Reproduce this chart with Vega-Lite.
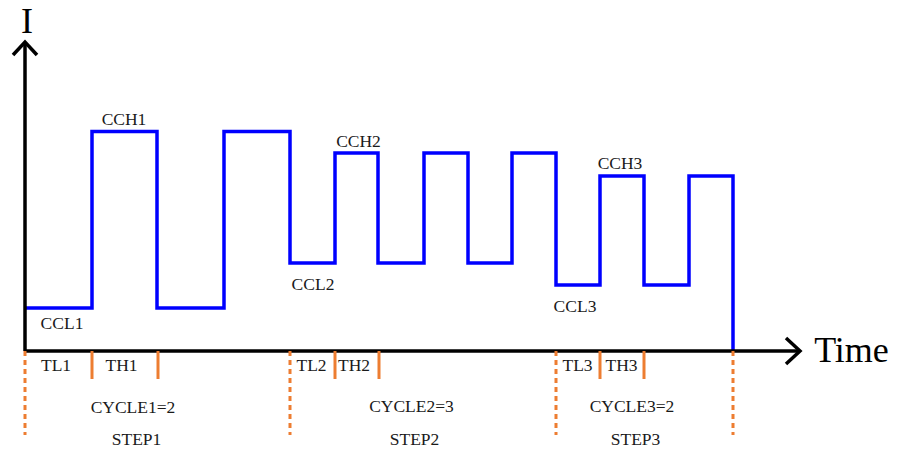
{
  "$schema": "https://vega.github.io/schema/vega-lite/v6.json",
  "width": 897,
  "height": 452,
  "padding": 0,
  "autosize": {"type": "fit", "contains": "padding"},
  "view": {"stroke": null},
  "background": "white",
  "datasets": {
    "current": [
      {"t": 0, "I": 43}, {"t": 67, "I": 219.5}, {"t": 132, "I": 43}, {"t": 199, "I": 219.5},
      {"t": 265, "I": 88}, {"t": 310, "I": 198}, {"t": 353, "I": 88}, {"t": 399, "I": 198},
      {"t": 443, "I": 88}, {"t": 487, "I": 198}, {"t": 531, "I": 66}, {"t": 575, "I": 175},
      {"t": 619, "I": 66}, {"t": 664, "I": 175}, {"t": 708, "I": 0}
    ],
    "axes": [
      {"g": "yaxis", "o": 0, "t": 0, "I": 0}, {"g": "yaxis", "o": 1, "t": 0, "I": 309},
      {"g": "xaxis", "o": 0, "t": 0, "I": 0}, {"g": "xaxis", "o": 1, "t": 775, "I": 0},
      {"g": "yarrow", "o": 0, "t": -12, "I": 296}, {"g": "yarrow", "o": 1, "t": 0, "I": 309}, {"g": "yarrow", "o": 2, "t": 12, "I": 296},
      {"g": "xarrow", "o": 0, "t": 761, "I": 13}, {"g": "xarrow", "o": 1, "t": 775, "I": 0}, {"g": "xarrow", "o": 2, "t": 761, "I": -13}
    ],
    "ticks": [
      {"g": "a", "t": 67, "I": 0}, {"g": "a", "t": 67, "I": -28},
      {"g": "b", "t": 133, "I": 0}, {"g": "b", "t": 133, "I": -28},
      {"g": "c", "t": 310, "I": 0}, {"g": "c", "t": 310, "I": -28},
      {"g": "d", "t": 354, "I": 0}, {"g": "d", "t": 354, "I": -28},
      {"g": "e", "t": 575, "I": 0}, {"g": "e", "t": 575, "I": -28},
      {"g": "f", "t": 619, "I": 0}, {"g": "f", "t": 619, "I": -28}
    ],
    "steps": [
      {"g": "s0", "t": 0, "I": 0}, {"g": "s0", "t": 0, "I": -84},
      {"g": "s1", "t": 265, "I": 0}, {"g": "s1", "t": 265, "I": -84},
      {"g": "s2", "t": 531, "I": 0}, {"g": "s2", "t": 531, "I": -84},
      {"g": "s3", "t": 708, "I": 0}, {"g": "s3", "t": 708, "I": -84}
    ],
    "labels": [
      {"label": "CCH1", "t": 99, "I": 231.5},
      {"label": "CCL1", "t": 37, "I": 27.5},
      {"label": "CCH2", "t": 333.5, "I": 209.5},
      {"label": "CCL2", "t": 288, "I": 66},
      {"label": "CCH3", "t": 595, "I": 187.5},
      {"label": "CCL3", "t": 550, "I": 44},
      {"label": "TL1", "t": 31, "I": -14.5},
      {"label": "TH1", "t": 96.5, "I": -14.5},
      {"label": "TL2", "t": 286.5, "I": -14.5},
      {"label": "TH2", "t": 329, "I": -14.5},
      {"label": "TL3", "t": 552.5, "I": -14.5},
      {"label": "TH3", "t": 596.5, "I": -14.5},
      {"label": "CYCLE1=2", "t": 108, "I": -56.5},
      {"label": "CYCLE2=3", "t": 386.5, "I": -56},
      {"label": "CYCLE3=2", "t": 607, "I": -56},
      {"label": "STEP1", "t": 111.5, "I": -89},
      {"label": "STEP2", "t": 389.5, "I": -89},
      {"label": "STEP3", "t": 610.5, "I": -89}
    ],
    "ylabel": [{"label": "I", "t": 2, "I": 318}],
    "xlabel": [{"label": "Time", "t": 826.5, "I": 0}]
  },
  "encoding": {
    "x": {"field": "t", "type": "quantitative", "scale": {"domain": [-25, 872], "nice": false, "zero": false}, "axis": null},
    "y": {"field": "I", "type": "quantitative", "scale": {"domain": [-101, 351], "nice": false, "zero": false}, "axis": null}
  },
  "layer": [
    {
      "data": {"name": "current"},
      "mark": {"type": "line", "interpolate": "step-after", "color": "#0000FF", "strokeWidth": 3.5, "strokeJoin": "miter"}
    },
    {
      "data": {"name": "axes"},
      "mark": {"type": "line", "color": "#000000", "strokeWidth": 3.5, "strokeJoin": "miter"},
      "encoding": {"detail": {"field": "g"}, "order": {"field": "o", "type": "quantitative"}}
    },
    {
      "data": {"name": "ticks"},
      "mark": {"type": "line", "color": "#ED7D31", "strokeWidth": 3},
      "encoding": {"detail": {"field": "g"}}
    },
    {
      "data": {"name": "steps"},
      "mark": {"type": "line", "color": "#ED7D31", "strokeWidth": 3, "strokeDash": [5, 4]},
      "encoding": {"detail": {"field": "g"}}
    },
    {
      "data": {"name": "labels"},
      "mark": {"type": "text", "font": "Liberation Serif", "fontSize": 17.5, "color": "#1a1a1a", "align": "center", "baseline": "middle"},
      "encoding": {"text": {"field": "label"}}
    },
    {
      "data": {"name": "ylabel"},
      "mark": {"type": "text", "font": "Liberation Serif", "fontSize": 36, "color": "#000000", "align": "center", "baseline": "alphabetic"},
      "encoding": {"text": {"field": "label"}}
    },
    {
      "data": {"name": "xlabel"},
      "mark": {"type": "text", "font": "Liberation Serif", "fontSize": 36, "color": "#000000", "align": "center", "baseline": "middle"},
      "encoding": {"text": {"field": "label"}}
    }
  ]
}
